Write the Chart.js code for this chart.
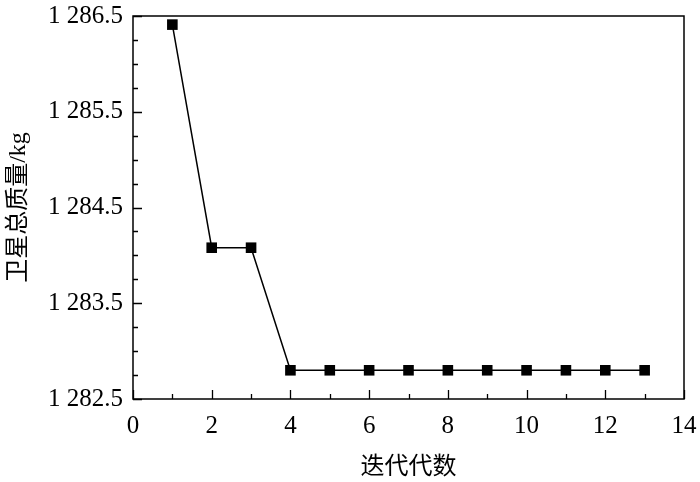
<!DOCTYPE html>
<html>
<head>
<meta charset="utf-8">
<script src="https://cdn.jsdelivr.net/npm/chart.js@4"></script>
<style>
  html, body { margin: 0; padding: 0; background: #fff; }
  #wrap { width: 700px; height: 482px; }
</style>
</head>
<body>
<div id="wrap"><canvas id="chart" width="700" height="482"></canvas></div>
<script>
// iteration number vs. total satellite mass
const generations = [1, 2, 3, 4, 5, 6, 7, 8, 9, 10, 11, 12, 13];
const totalMass = [1286.41, 1284.08, 1284.08, 1282.80, 1282.80, 1282.80, 1282.80,
                   1282.80, 1282.80, 1282.80, 1282.80, 1282.80, 1282.80];
const xTitle = '迭代代数';
const yTitle = '卫星总质量/kg';

const serif = '"Liberation Serif", "Times New Roman", "Noto Sans CJK SC", serif';

// frame + inward tick marks, positions taken from the scales
const frameTicks = {
  id: 'frameTicks',
  afterDatasetsDraw(chart) {
    const { ctx, chartArea: a, scales } = chart;
    ctx.save();
    ctx.strokeStyle = '#000';
    ctx.lineWidth = 1.5;
    ctx.strokeRect(a.left, a.top, a.right - a.left, a.bottom - a.top);
    ctx.lineWidth = 1.3;
    ctx.beginPath();
    scales.x.ticks.forEach(t => {
      const px = Math.round(scales.x.getPixelForValue(t.value)) + 0.5;
      const len = t.value % 2 === 0 ? 9 : 5;
      ctx.moveTo(px, a.bottom);
      ctx.lineTo(px, a.bottom - len);
    });
    scales.y.ticks.forEach(t => {
      const py = Math.round(scales.y.getPixelForValue(t.value)) + 0.5;
      const major = Math.abs((t.value - 0.5) % 1) < 1e-6;
      ctx.moveTo(a.left, py);
      ctx.lineTo(a.left + (major ? 9 : 5), py);
    });
    ctx.stroke();
    ctx.restore();
  }
};

// keep the plot box where the reference has it
function noOverflow(scale) {
  scale.paddingTop = 0;
  scale.paddingBottom = 0;
  scale.paddingLeft = 0;
  scale.paddingRight = 0;
}

new Chart(document.getElementById('chart'), {
  type: 'line',
  data: {
    labels: generations,
    datasets: [{
      data: generations.map((g, i) => ({ x: g, y: totalMass[i] })),
      borderColor: '#000',
      borderWidth: 1.5,
      backgroundColor: '#000',
      pointStyle: 'rect',
      pointRadius: 7.5,
      pointBorderWidth: 0,
      tension: 0
    }]
  },
  options: {
    responsive: false,
    animation: false,
    layout: { padding: { top: 16, right: 16, left: 0, bottom: 0 } },
    plugins: { legend: { display: false }, tooltip: { enabled: false } },
    scales: {
      x: {
        type: 'linear',
        min: 0, max: 14,
        ticks: {
          stepSize: 1,
          autoSkip: false,
          maxRotation: 0,
          padding: 12,
          color: '#000',
          font: { family: serif, size: 25 },
          callback: v => (v % 2 === 0 ? String(v) : '')
        },
        grid: { display: false, drawTicks: false },
        border: { display: false },
        title: {
          display: true,
          text: xTitle,
          color: '#000',
          font: { family: serif, size: 24 },
          padding: { top: 4, bottom: 0 }
        },
        afterFit(scale) { scale.height = 83; noOverflow(scale); }
      },
      y: {
        min: 1282.5, max: 1286.5,
        ticks: {
          stepSize: 0.25,
          autoSkip: false,
          padding: 10,
          color: '#000',
          font: { family: serif, size: 25 },
          callback: v => {
            if (Math.abs((v - 0.5) % 1) > 1e-6) return '';
            const s = v.toFixed(1);
            return s.slice(0, 1) + ' ' + s.slice(1);
          }
        },
        grid: { display: false, drawTicks: false },
        border: { display: false },
        title: {
          display: true,
          text: yTitle,
          color: '#000',
          font: { family: serif, size: 24 },
          padding: { top: 4, bottom: 4 }
        },
        afterFit(scale) { scale.width = 133; noOverflow(scale); }
      }
    }
  },
  plugins: [frameTicks]
});
</script>
</body>
</html>
